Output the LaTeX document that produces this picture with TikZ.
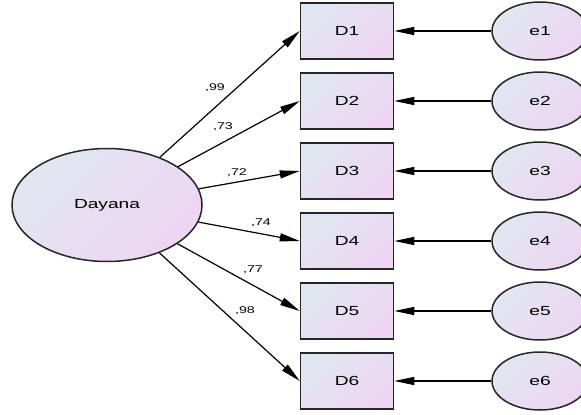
\documentclass[tikz,border=0pt]{standalone}
\usepackage{fontspec}
\setmainfont{Liberation Sans}
\usepackage{graphicx}
\usetikzlibrary{shapes.geometric}
\usetikzlibrary{arrows.meta}
\definecolor{shadeA}{RGB}{225,231,241}
\definecolor{shadeB}{RGB}{237,213,243}
\newcommand{\wtext}[1]{\scalebox{1.45}[1]{#1}}

\begin{document}
\begin{tikzpicture}[x=1pt,y=-1pt,
  soft/.style={draw=black!85,line width=1.5pt,top color=shadeA,bottom color=shadeB,shading angle=45,
    font=\fontsize{13.2}{15}\selectfont},
  obs/.style={soft,rectangle,minimum width=93pt,minimum height=56pt},
  err/.style={soft,ellipse,minimum width=96pt,minimum height=58pt,inner sep=0pt},
  lat/.style={soft,ellipse,minimum width=190pt,minimum height=113pt,inner sep=0pt},
  lbl/.style={font=\fontsize{9.8}{11}\selectfont,inner sep=0pt},
  path/.style={line width=1.2pt,-{Triangle[length=20pt,width=8pt]}}]
\useasboundingbox (0,0) rectangle (581,415);
\clip (0,0) rectangle (581,415);
\path (107,205) node[lat](Dayana) {\wtext{Dayana}}
(347,31) node[obs](D1) {\wtext{D1}}
(347,101) node[obs](D2) {\wtext{D2}}
(347,171) node[obs](D3) {\wtext{D3}}
(347,241) node[obs](D4) {\wtext{D4}}
(347,311) node[obs](D5) {\wtext{D5}}
(347,381) node[obs](D6) {\wtext{D6}}
(540,31) node[err](e1) {\wtext{e1}}
(540,101) node[err](e2) {\wtext{e2}}
(540,171) node[err](e3) {\wtext{e3}}
(540,241) node[err](e4) {\wtext{e4}}
(540,311) node[err](e5) {\wtext{e5}}
(540,381) node[err](e6) {\wtext{e6}}
;
% loadings
\draw[path] (Dayana) -- (D1.west);
\draw[path] (Dayana) -- (D2.west);
\draw[path] (Dayana) -- (D3.west);
\draw[path] (Dayana) -- (D4.west);
\draw[path] (Dayana) -- (D5.west);
\draw[path] (Dayana) -- (D6.west);
\path (215,88) node[lbl](w1) {\wtext{,99}}
(223,127) node[lbl](w2) {\wtext{,73}}
(237,173) node[lbl](w3) {\wtext{,72}}
(261,223) node[lbl](w4) {\wtext{,74}}
(253,270) node[lbl](w5) {\wtext{,77}}
(245,311) node[lbl](w6) {\wtext{,98}};
% errors
\draw[path] (e1) -- (D1);
\draw[path] (e2) -- (D2);
\draw[path] (e3) -- (D3);
\draw[path] (e4) -- (D4);
\draw[path] (e5) -- (D5);
\draw[path] (e6) -- (D6);
\end{tikzpicture}
\end{document}
